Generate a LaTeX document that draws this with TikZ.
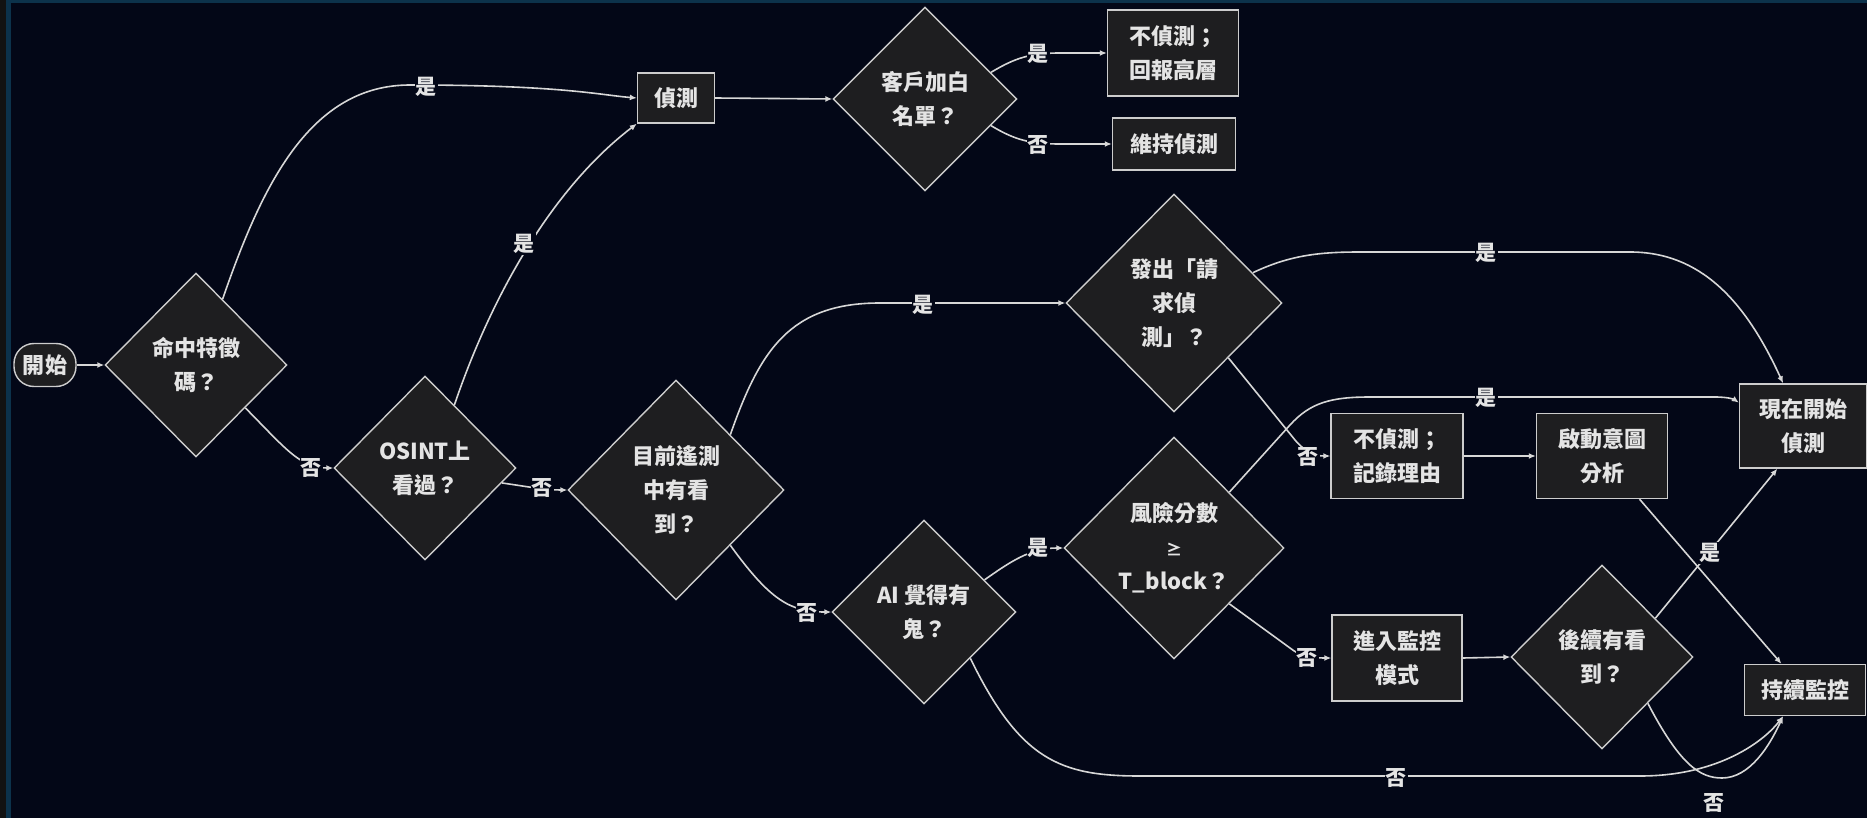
\documentclass[tikz,border=0pt]{standalone}
\usepackage{fontspec}
\setmainfont{Noto Sans CJK TC}
\usetikzlibrary{shapes.geometric,arrows.meta,calc}
\definecolor{bgc}{RGB}{3,7,23}
\definecolor{nodefill}{RGB}{30,30,32}
\definecolor{nodeline}{RGB}{205,205,205}
\definecolor{edgec}{RGB}{215,215,215}
\definecolor{txt}{RGB}{228,228,228}
\definecolor{framegray}{RGB}{18,18,18}
\definecolor{frameteal}{RGB}{12,50,75}
\begin{document}
\begin{tikzpicture}[x=1pt,y=-1pt,
  base/.style={draw=nodeline, line width=1.4pt, fill=nodefill, text=txt,
    font=\fontsize{22}{34}\selectfont\bfseries, align=center, inner sep=0pt},
  box/.style 2 args={base, rectangle, minimum width=#1, minimum height=#2},
  dia/.style 2 args={base, diamond, minimum width=#1, minimum height=#2},
  startbox/.style={base, rectangle, rounded corners=20pt, minimum width=62, minimum height=43},
  e/.style={draw=edgec, line width=1.6pt, -{Latex[length=7pt,width=6pt]}},
  lbl/.style={fill=bgc, text=txt, font=\fontsize{21}{21}\selectfont\bfseries, inner sep=1pt}
]
\useasboundingbox (0,0) rectangle (1867,818);
\fill[bgc] (0,0) rectangle (1867,818);
\fill[framegray] (0,0) rectangle (6,818);
\fill[frameteal] (6,0) rectangle (11,818);
\fill[frameteal] (6,0) rectangle (1867,3);

% nodes
\node[startbox] (st) at (45,365) {開始};
\node[dia={182}{184}] (mz) at (196,365) {命中特徵\\碼？};
\node[dia={182}{184}] (osint) at (425,468) {OSINT上\\看過？};
\node[box={77}{50}] (zc) at (676,98) {偵測};
\node[dia={184}{184}] (kh) at (925,99) {客戶加白\\名單？};
\node[box={131}{86}] (bc1) at (1173,53) {不偵測；\\回報高層};
\node[box={123}{52}] (wc) at (1174,144) {維持偵測};
\node[dia={216}{220}] (mq) at (676,490) {目前遙測\\中有看\\到？};
\node[dia={216}{218}] (fc) at (1174,303) {發出「請\\求偵\\測」？};
\node[dia={184}{184}] (ai) at (924,612) {AI 覺得有\\鬼？};
\node[dia={220}{222}] (fx) at (1174,548) {風險分數\\{\fontsize{16}{34}\selectfont ≥}\\T\_block？};
\node[box={132}{85}] (bc2) at (1397,456) {不偵測；\\記錄理由};
\node[box={131}{85}] (qd) at (1602,456) {啟動意圖\\分析};
\node[box={127}{84}] (xz) at (1803,426) {現在開始\\偵測};
\node[box={130}{86}] (jr) at (1397,658) {進入監控\\模式};
\node[dia={182}{184}] (hx) at (1602,657) {後續有看\\到？};
\node[box={121}{51}] (cx) at (1805,690) {持續監控};

% edges
\draw[e] (st.east) -- (mz.west);
\draw[e] (mz.68) .. controls (262,185) and (310,85) .. (410,85) .. controls (560,85) and (600,95) .. (zc.west);
\draw[e] (mz.-41) .. controls (285,448) and (300,468) .. (osint.west);
\draw[e] (osint.65) .. controls (490,300) and (550,190) .. (zc.south west);
\draw[e] (osint.-11) .. controls (530,487) and (545,490) .. (mq.west);
\draw[e] (zc.east) -- (kh.west);
\draw[e] (kh.22) .. controls (1015,58) and (1030,53) .. (1060,53) -- (bc1.west);
\draw[e] (kh.-22) .. controls (1015,140) and (1030,144) .. (1060,144) -- (wc.west);
\draw[e] (mq.north east) .. controls (760,350) and (790,303) .. (880,303) -- (fc.west);
\draw[e] (mq.south east) .. controls (770,600) and (790,612) .. (ai.west);
\draw[e] (fc.21) .. controls (1290,255) and (1320,252) .. (1360,252) -- (1630,252) .. controls (1700,252) and (1745,300) .. (xz.115);
\draw[e] (fc.south east) -- (1295,440) .. controls (1305,452) and (1315,456) .. (bc2.west);
\draw[e] (ai.28) .. controls (1010,562) and (1030,548) .. (fx.west);
\draw[e] (ai.south east) .. controls (1020,760) and (1060,776) .. (1140,776) -- (1640,776) .. controls (1720,776) and (1765,740) .. (cx.230);
\draw[e] (fx.north east) -- (1290,425) .. controls (1310,403) and (1330,397) .. (1370,397) -- (1715,397) .. controls (1730,397) and (1735,400) .. (xz.160);
\draw[e] (fx.south east) -- (1290,648) .. controls (1300,656) and (1310,658) .. (jr.west);
\draw[e] (bc2.east) -- (qd.west);
\draw[e] (qd.-49) -- (cx.132);
\draw[e] (jr.east) -- (hx.west);
\draw[e] (hx.36) -- (xz.239);
\draw[e] (hx.south east) .. controls (1680,765) and (1700,778) .. (1722,778) .. controls (1750,778) and (1770,745) .. (cx.230);

% labels
\node[lbl] (l1) at (426,87) {是};
\node[lbl] (l2) at (524,244) {是};
\node[lbl] (l3) at (311,468) {否};
\node[lbl] (l4) at (542,488) {否};
\node[lbl] (l5) at (1038,54) {是};
\node[lbl] (l6) at (1038,145) {否};
\node[lbl] (l7) at (923,305) {是};
\node[lbl] (l8) at (807,613) {否};
\node[lbl] (l9) at (1486,253) {是};
\node[lbl] (l10) at (1308,457) {否};
\node[lbl] (l11) at (1038,548) {是};
\node[lbl] (l12) at (1396,778) {否};
\node[lbl] (l13) at (1486,398) {是};
\node[lbl] (l14) at (1307,658) {否};
\node[lbl] (l15) at (1710,553) {是};
\node[lbl] (l16) at (1714,803) {否};
\end{tikzpicture}
\end{document}
